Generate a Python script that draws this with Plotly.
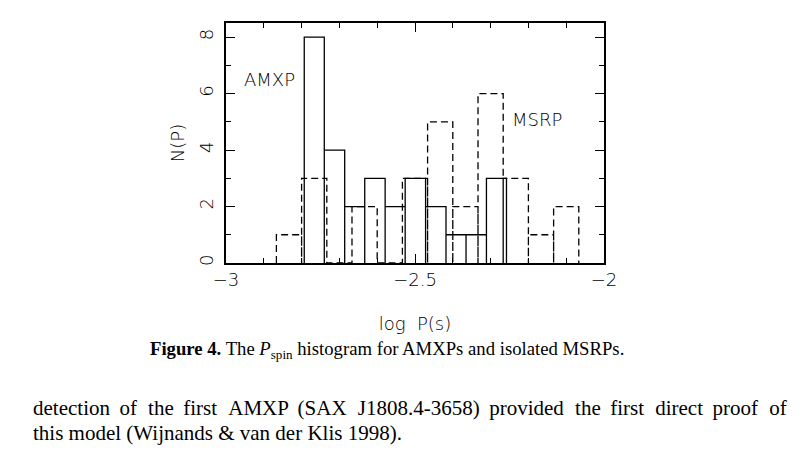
import plotly.graph_objects as go

# AMXP histogram (solid) - bin edges, log P(s)
amxp_edges = [-2.793, -2.740, -2.686, -2.633, -2.579, -2.526,
              -2.472, -2.418, -2.365, -2.311, -2.258]
amxp_counts = [8, 4, 2, 3, 2, 3, 2, 1, 1, 3]

# isolated MSRP histogram (dashed), bins of 1/15 dex
msrp_edges = [-2.8667, -2.8, -2.7333, -2.6667, -2.6, -2.5333, -2.4667,
              -2.4, -2.3333, -2.2667, -2.2, -2.1333, -2.0667]
msrp_counts = [1, 3, 0, 2, 0, 3, 5, 2, 6, 3, 1, 2]


def outline(edges, counts):
    # each bin drawn as an open box sitting on the axis
    xs, ys = [], []
    for i, c in enumerate(counts):
        xs += [edges[i], edges[i], edges[i + 1], edges[i + 1]]
        ys += [0, c, c, 0]
    return xs, ys


ax_font = dict(family="DejaVu Sans", size=18, color="black", weight=300)

fig = go.Figure()

x, y = outline(amxp_edges, amxp_counts)
fig.add_trace(go.Scatter(x=x, y=y, mode="lines",
                         line=dict(color="black", width=1.3),
                         hoverinfo="skip", showlegend=False))

x, y = outline(msrp_edges, msrp_counts)
fig.add_trace(go.Scatter(x=x, y=y, mode="lines",
                         line=dict(color="black", width=1.3, dash="7px,4px"),
                         hoverinfo="skip", showlegend=False))

fig.add_annotation(x=-2.884, y=6.5, text="AMXP", showarrow=False,
                   font=ax_font)
fig.add_annotation(x=-2.178, y=5.1, text="MSRP", showarrow=False,
                   font=ax_font)

# caption and running text below the figure (first line is justified)
words = ("detection of the first AMXP (SAX J1808.4-3658) provided the "
         "first direct proof of").split(" ")
line1 = words[0]
for i, w in enumerate(words[1:]):
    line1 += (" \u2009\u200a" if i % 2 else " \u2009") + w
fig.add_annotation(xref="paper", yref="paper", x=-0.2065, y=-0.362,
                   xanchor="left", yanchor="middle", showarrow=False,
                   text="<b>Figure 4.</b> The <i>P</i><sub>spin</sub> histogram for AMXPs and isolated MSRPs.",
                   font=dict(family="Liberation Serif", size=18.7, color="black"))
fig.add_annotation(xref="paper", yref="paper", x=-0.516, y=-0.605,
                   xanchor="left", yanchor="middle", showarrow=False,
                   text=line1,
                   font=dict(family="Liberation Serif", size=21, color="black"))
fig.add_annotation(xref="paper", yref="paper", x=-0.516, y=-0.71,
                   xanchor="left", yanchor="middle", showarrow=False,
                   text="this model (Wijnands &amp; van der Klis 1998).",
                   font=dict(family="Liberation Serif", size=21, color="black"))

fig.update_xaxes(range=[-3, -2], tickvals=[-3, -2.5, -2],
                 ticks="inside", ticklen=9, tickwidth=1.2, tickcolor="black",
                 minor=dict(dtick=0.1, tick0=-3, ticks="inside", ticklen=5,
                            tickcolor="black", tickwidth=1.2, showgrid=False),
                 showline=True, linecolor="black", linewidth=1.5, mirror="ticks",
                 showgrid=False, zeroline=False, tickfont=ax_font,
                 ticklabelstandoff=0, automargin=False,
                 title=dict(text="log  P(s)", font=ax_font, standoff=28))

fig.update_yaxes(range=[0, 8.5], tickvals=[0, 2, 4, 6, 8], tickangle=-90,
                 ticks="inside", ticklen=9, tickwidth=1.2, tickcolor="black",
                 minor=dict(dtick=1, tick0=0, ticks="inside", ticklen=5,
                            tickcolor="black", tickwidth=1.2, showgrid=False),
                 showline=True, linecolor="black", linewidth=1.5, mirror="ticks",
                 showgrid=False, zeroline=False, tickfont=ax_font,
                 ticklabelstandoff=4, automargin=False,
                 title=dict(text="N(P)", font=ax_font, standoff=7))

# page body has an 8px margin, so the figure is made 8px smaller
fig.update_layout(width=797, height=454,
                  margin=dict(l=218, r=201, t=15, b=199),
                  paper_bgcolor="white", plot_bgcolor="white")

fig.write_html("out.html")
